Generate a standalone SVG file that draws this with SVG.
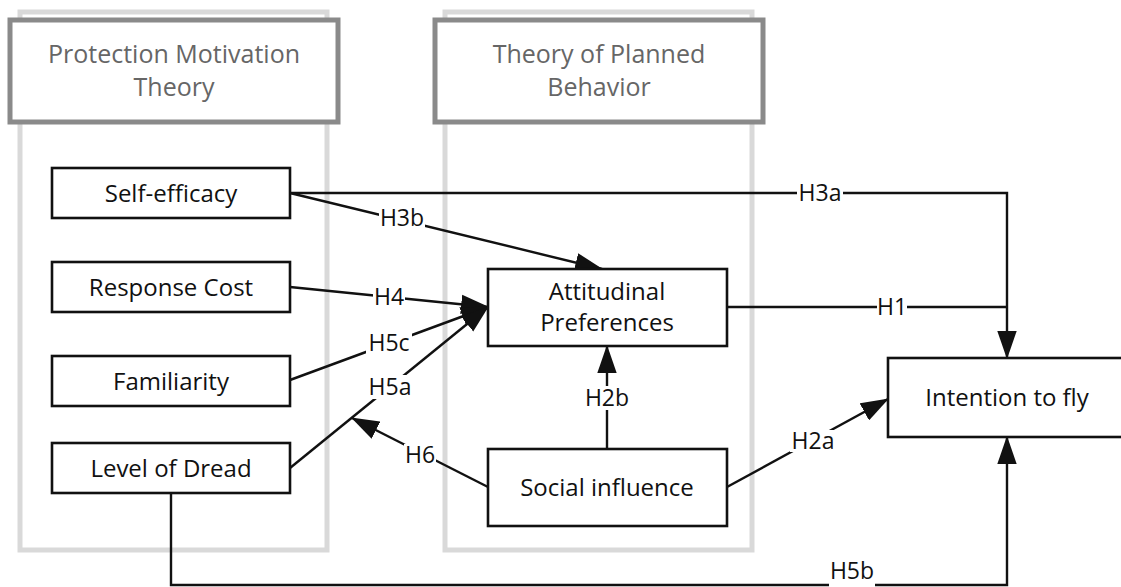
<svg xmlns="http://www.w3.org/2000/svg" width="1121" height="587" viewBox="0 0 1121 587">
<defs>
<style>
.cont{fill:none;stroke:#d9d9d9;stroke-width:5}
.head{fill:#fff;stroke:#8a8a8a;stroke-width:5}
.htxt{font-family:"Open Sans","Liberation Sans",sans-serif;font-size:25px;fill:#666;text-anchor:middle}
.node{fill:#fff;stroke:#111;stroke-width:2.6}
.ntxt{font-family:"Open Sans","Liberation Sans",sans-serif;font-size:24px;fill:#111;text-anchor:middle}
.edge{fill:none;stroke:#111;stroke-width:2.4}
.lbg{fill:#fff}
.ltxt{font-family:"Open Sans","Liberation Sans",sans-serif;font-size:23px;fill:#111;text-anchor:middle}
</style>
<marker id="arr" markerUnits="userSpaceOnUse" markerWidth="28" markerHeight="20" viewBox="0 0 26 18" refX="25" refY="9" orient="auto">
<path d="M0,0 L26,9 L0,18 z" fill="#111"/>
</marker>
</defs>
<rect width="1121" height="587" fill="#fff"/>
<g id="pmt">
<rect class="cont" x="20" y="12" width="307" height="538"/>
<rect class="head" x="10" y="20" width="328" height="102"/>
<text class="htxt" x="174" y="63">Protection Motivation</text>
<text class="htxt" x="174" y="96">Theory</text>
</g>
<g id="tpb">
<rect class="cont" x="445" y="12" width="307" height="538"/>
<rect class="head" x="435" y="20" width="328" height="102"/>
<text class="htxt" x="599" y="63">Theory of Planned</text>
<text class="htxt" x="599" y="96">Behavior</text>
</g>
<g id="connectors">
<path class="edge" d="M290,193 H1007 V358" marker-end="url(#arr)"/>
<path class="edge" d="M290,193 L602,269" marker-end="url(#arr)"/>
<path class="edge" d="M290,287 L488,307" marker-end="url(#arr)"/>
<path class="edge" d="M290,380 L488,307" marker-end="url(#arr)"/>
<path class="edge" d="M290,468 L488,307" marker-end="url(#arr)"/>
<path class="edge" d="M488,487 L352,418" marker-end="url(#arr)"/>
<path class="edge" d="M607,449 V346" marker-end="url(#arr)"/>
<path class="edge" d="M727,487 L888,399" marker-end="url(#arr)"/>
<path class="edge" d="M727,307 H1007"/>
<path class="edge" d="M171,493 V585 H1007 V437" marker-end="url(#arr)"/>
<g id="labels">
<rect class="lbg" x="797" y="182" width="46" height="22"/><text class="ltxt" x="820" y="201">H3a</text>
<rect class="lbg" x="379" y="207" width="46" height="22"/><text class="ltxt" x="402" y="226">H3b</text>
<rect class="lbg" x="373" y="286" width="32" height="22"/><text class="ltxt" x="389" y="305">H4</text>
<rect class="lbg" x="366" y="332" width="46" height="22"/><text class="ltxt" x="389" y="351">H5c</text>
<rect class="lbg" x="367" y="375" width="46" height="24"/><text class="ltxt" x="390" y="395">H5a</text>
<rect class="lbg" x="404" y="444" width="32" height="22"/><text class="ltxt" x="420" y="463">H6</text>
<rect class="lbg" x="584" y="386" width="46" height="24"/><text class="ltxt" x="607" y="406">H2b</text>
<rect class="lbg" x="790" y="430" width="46" height="22"/><text class="ltxt" x="813" y="449">H2a</text>
<rect class="lbg" x="877" y="296" width="30" height="22"/><text class="ltxt" x="892" y="315">H1</text>
<rect class="lbg" x="829" y="561" width="46" height="26"/><text class="ltxt" x="852" y="579">H5b</text>
</g>
</g>
<g id="self-efficacy"><rect class="node" x="52" y="168" width="238" height="50"/><text class="ntxt" x="171" y="202">Self-efficacy</text></g>
<g id="response-cost"><rect class="node" x="52" y="262" width="238" height="50"/><text class="ntxt" x="171" y="296">Response Cost</text></g>
<g id="familiarity"><rect class="node" x="52" y="356" width="238" height="50"/><text class="ntxt" x="171" y="390">Familiarity</text></g>
<g id="level-of-dread"><rect class="node" x="52" y="443" width="238" height="50"/><text class="ntxt" x="171" y="477">Level of Dread</text></g>
<g id="attitudinal-preferences"><rect class="node" x="488" y="269" width="239" height="77"/><text class="ntxt" x="607" y="300">Attitudinal</text><text class="ntxt" x="607" y="331">Preferences</text></g>
<g id="social-influence"><rect class="node" x="488" y="449" width="239" height="77"/><text class="ntxt" x="607" y="496">Social influence</text></g>
<g id="intention-to-fly"><rect class="node" x="888" y="358" width="238" height="79"/><text class="ntxt" x="1007" y="406">Intention to fly</text></g>
</svg>
